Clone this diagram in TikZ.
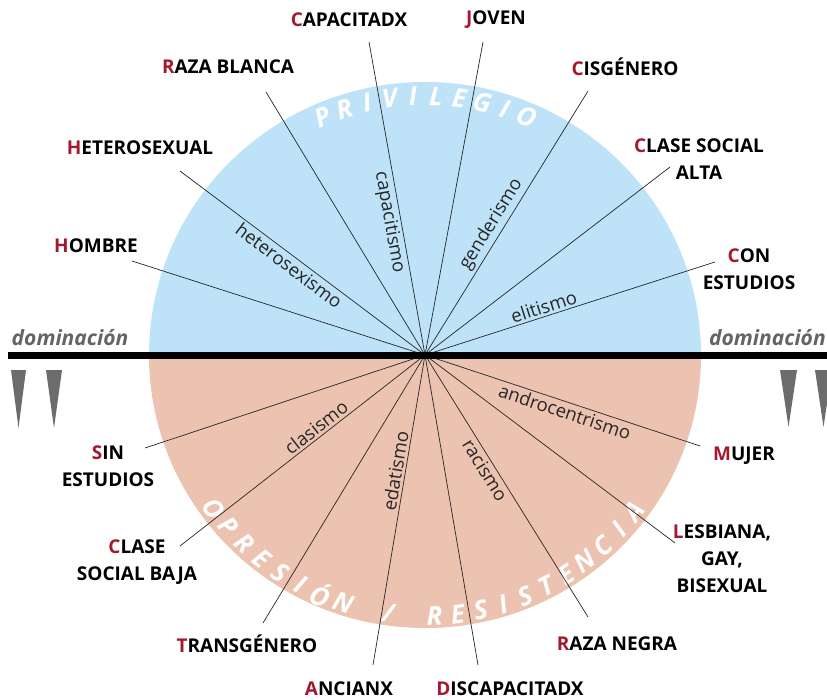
\documentclass[tikz,border=0pt]{standalone}
\usepackage{fontspec}
\setmainfont{Open Sans}
\usepackage{tikz}
\usetikzlibrary{positioning}
\definecolor{privblue}{HTML}{BEE3F8}
\definecolor{oprpink}{HTML}{ECC2B0}
\definecolor{inired}{HTML}{A3192E}
\definecolor{domgray}{HTML}{646464}
\newcommand{\ini}[1]{\textcolor{inired}{#1}}
\tikzset{
  grupo/.style={font=\fontsize{19}{27}\selectfont\bfseries, align=center, inner sep=0pt},
  ismo/.style={font=\fontsize{18.5}{20}\selectfont, text=black!85, sloped, inner sep=2.5pt},
  rayo/.style={line width=0.7pt, black!85},
  arcletra/.style={font=\fontsize{26}{26}\selectfont\bfseries\itshape, text=white, inner sep=0pt},
  domtxt/.style={font=\fontsize{21}{22}\selectfont\bfseries\itshape, text=domgray, inner sep=0pt},
  cuna/.style={fill=domgray!95},
}

\begin{document}
\begin{tikzpicture}[x=1pt, y=1pt]
  \useasboundingbox (0,0) rectangle (827,-699);
  \coordinate (C) at (425,-355);

  \fill[privblue] (C) ++(276,0) arc[start angle=0, end angle=180, x radius=276, y radius=273] -- cycle;
  \fill[oprpink] (C) ++(-276,0) arc[start angle=180, end angle=360, x radius=276, y radius=273] -- cycle;

  \foreach \l [count=\i from 0] in {P,R,I,V,I,L,E,G,I,O} {
    \pgfmathsetmacro{\ang}{113.3-5.15*\i}
    \node[arcletra, rotate=\ang-90] at ([shift={(\ang:259)}]C) {\l};
  }
  \foreach \l [count=\i from 0] in {O,P,R,E,S,I,Ó,N,{},/,{},R,E,S,I,S,T,E,N,C,I,A} {
    \pgfmathsetmacro{\ang}{216+5.1*\i}
    \node[arcletra, rotate=\ang+90] at ([shift={(\ang:261)}]C) {\l};
  }

  \node[grupo] (capac) at (349,-20) {\ini{C}APACITADX};
  \node[grupo] (razab) at (228,-67) {\ini{R}AZA BLANCA};
  \node[grupo] (hetero) at (140,-148) {\ini{H}ETEROSEXUAL};
  \node[grupo] (hombre) at (96,-246) {\ini{H}OMBRE};
  \node[grupo] (joven) at (496,-20) {\ini{J}OVEN};
  \node[grupo] (cisg) at (625,-67) {\ini{C}ISGÉNERO};
  \node[grupo] (claseA) at (699,-159) {\ini{C}LASE SOCIAL\\ALTA};
  \node[grupo] (conEst) at (749,-269) {\ini{C}ON\\ESTUDIOS};
  \node[grupo] (sinEst) at (108,-466) {\ini{S}IN\\ESTUDIOS};
  \node[grupo] (claseB) at (137,-562) {\ini{C}LASE\\SOCIAL BAJA};
  \node[grupo] (trans) at (247,-644) {\ini{T}RANSGÉNERO};
  \node[grupo] (ancianx) at (349,-689) {\ini{A}NCIANX};
  \node[grupo] (discap) at (510,-689) {\ini{D}ISCAPACITADX};
  \node[grupo] (razan) at (617,-644) {\ini{R}AZA NEGRA};
  \node[grupo] (lgb) at (722,-559) {\ini{L}ESBIANA,\\GAY,\\BISEXUAL};
  \node[grupo] (mujer) at (744,-456) {\ini{M}UJER};

  \coordinate (hombre-e) at (132,-261);
  \coordinate (hetero-e) at (180,-171);
  \coordinate (razab-e) at (266,-92);
  \coordinate (capac-e) at (369,-42);
  \coordinate (joven-e) at (483,-42);
  \coordinate (cisg-e) at (588,-91);
  \coordinate (claseA-e) at (670,-167);
  \coordinate (conEst-e) at (715,-262);
  \coordinate (sinEst-e) at (145,-448);
  \coordinate (claseB-e) at (180,-546);
  \coordinate (trans-e) at (263,-623);
  \coordinate (ancianx-e) at (373,-665);
  \coordinate (discap-e) at (478,-665);
  \coordinate (razan-e) at (588,-617);
  \coordinate (lgb-e) at (675,-543);
  \coordinate (mujer-e) at (700,-446);

  \draw[rayo] (C) -- (hombre-e);
  \draw[rayo] (C) -- (hetero-e) node[ismo, below, pos=0.53] {heterosexismo};
  \draw[rayo] (C) -- (razab-e);
  \draw[rayo] (C) -- (capac-e) node[ismo, below, pos=0.43] {capacitismo};
  \draw[rayo] (C) -- (joven-e);
  \draw[rayo] (C) -- (cisg-e) node[ismo, above, pos=0.47] {genderismo};
  \draw[rayo] (C) -- (claseA-e);
  \draw[rayo] (C) -- (conEst-e) node[ismo, above, pos=0.42] {elitismo};
  \draw[rayo] (C) -- (sinEst-e);
  \draw[rayo] (C) -- (claseB-e) node[ismo, above, pos=0.42] {clasismo};
  \draw[rayo] (C) -- (trans-e);
  \draw[rayo] (C) -- (ancianx-e) node[ismo, above, pos=0.38] {edatismo};
  \draw[rayo] (C) -- (discap-e);
  \draw[rayo] (C) -- (razan-e) node[ismo, below, pos=0.42] {racismo};
  \draw[rayo] (C) -- (lgb-e);
  \draw[rayo] (C) -- (mujer-e) node[ismo, below, pos=0.52] {androcentrismo};

  \draw[line width=7pt] (8,-355.5) -- (827,-355.5);
  \node[domtxt, anchor=base] (domL) at (70,-345) {dominación};
  \node[domtxt, anchor=base west] (domR) at (709,-345) {dominación};

  \fill[cuna] (11,-370) -- (26,-370) -- (18.5,-428) -- cycle;
  \fill[cuna] (46,-370) -- (62,-370) -- (54,-428) -- cycle;
  \fill[cuna] (780,-370) -- (797,-370) -- (788.5,-427) -- cycle;
  \fill[cuna] (815,-370) -- (832,-370) -- (823.5,-427) -- cycle;
\end{tikzpicture}
\end{document}
